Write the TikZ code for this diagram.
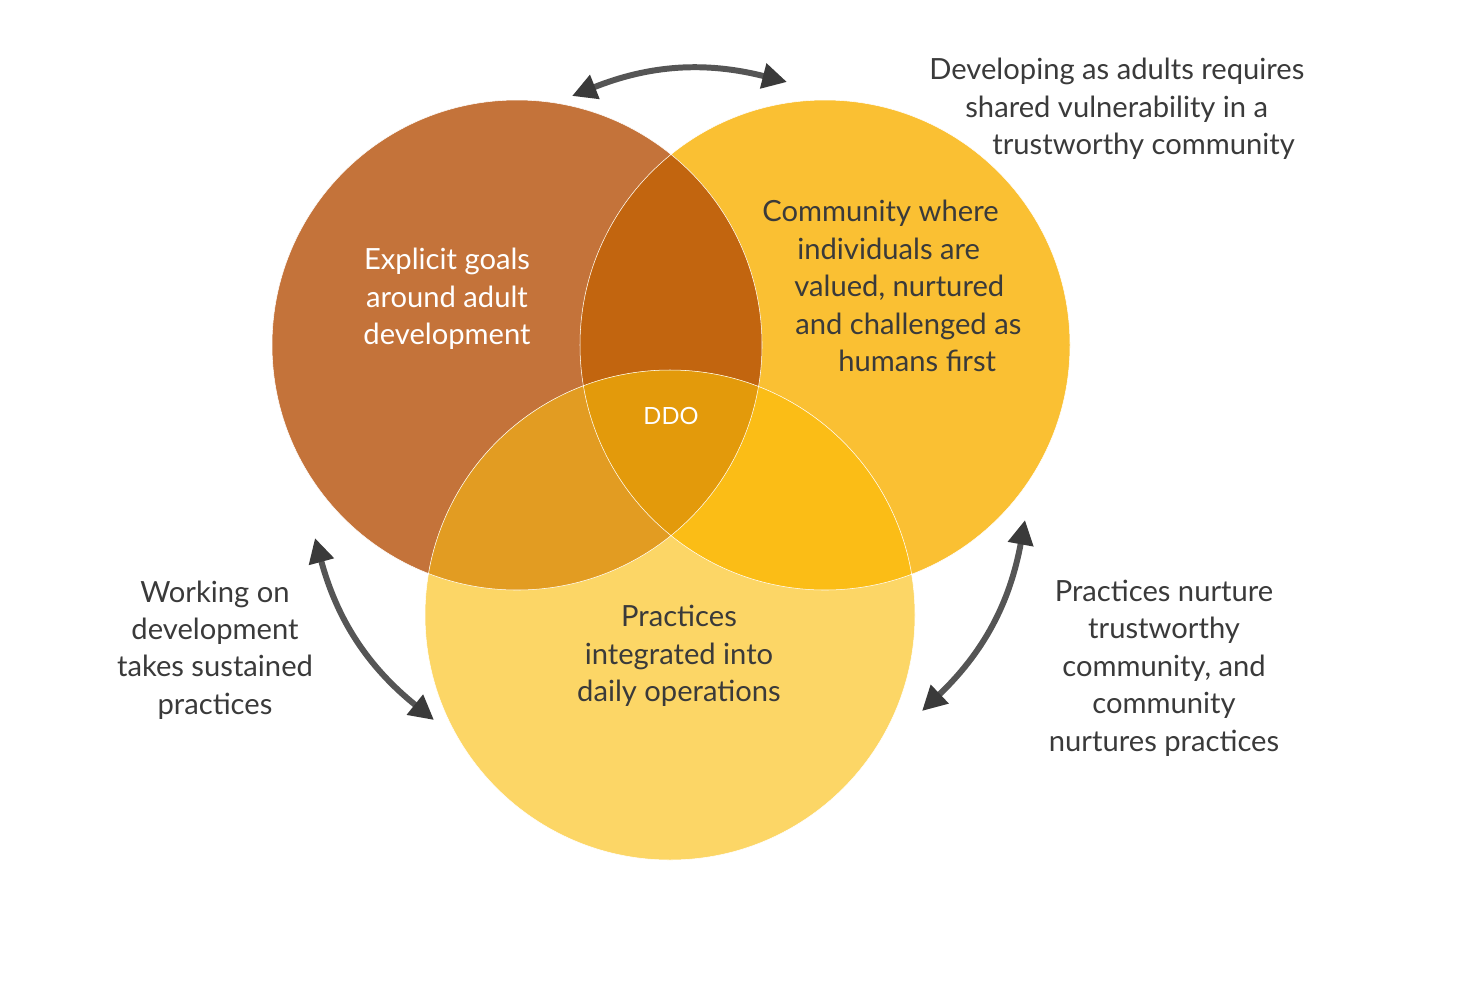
\documentclass[tikz,border=0pt]{standalone}
\usepackage{fontspec}
\setmainfont{Lato}
\usepackage{xcolor}
\usepackage{tikz}
\usetikzlibrary{arrows.meta,positioning}
\definecolor{goalbrown}{HTML}{C4733A}
\definecolor{commyellow}{HTML}{FAC033}
\definecolor{practlight}{HTML}{FCD666}
\definecolor{goalcomm}{HTML}{C2650F}
\definecolor{goalpract}{HTML}{E29C22}
\definecolor{commpract}{HTML}{FBBD16}
\definecolor{ddocore}{HTML}{E39A0B}
\definecolor{textgray}{HTML}{3A3A3A}
\definecolor{arrowgray}{HTML}{555555}
\definecolor{tipgray}{HTML}{3A3A3A}
\newlength{\pxu}
\setlength{\pxu}{0.2mm}

\begin{document}
\begin{tikzpicture}[
    x=0.2mm, y=-0.2mm,
    label/.style={font=\fontsize{16.6}{21.3}\selectfont, text=textgray, align=center, inner sep=0pt},
    inlabel/.style={label, text=white},
    dblarrow/.style={{Triangle[length=14pt,width=14pt,color=tipgray]}-{Triangle[length=14pt,width=14pt,color=tipgray]}, line width=3.4pt, draw=arrowgray}
  ]
    \useasboundingbox (0,0) rectangle (1476,1004);
    \def\goalcirc{(517,345) circle (245)}
    \def\commcirc{(825,345) circle (245)}
    \def\practcirc{(670,615) circle (245)}

    % base circles
    \fill[goalbrown] \goalcirc;
    \fill[commyellow] \commcirc;
    \fill[practlight] \practcirc;
    % pairwise overlaps
    \begin{scope}
      \clip \goalcirc;
      \fill[goalcomm] \commcirc;
      \fill[goalpract] \practcirc;
    \end{scope}
    \begin{scope}
      \clip \commcirc;
      \fill[commpract] \practcirc;
    \end{scope}
    % centre
    \begin{scope}
      \clip \goalcirc;
      \clip \commcirc;
      \fill[ddocore] \practcirc;
    \end{scope}
    \draw[white, line width=0.3pt] \goalcirc \commcirc \practcirc;

    \node[inlabel] (goals) at (447,299) {Explicit goals\\around adult\\development};
    \node[label, align=left, anchor=north west] (community) at (762,200)
      {Community where\\\hspace*{35\pxu}individuals are\\\hspace*{32\pxu}valued, nurtured\\\hspace*{33\pxu}and challenged as\\\hspace*{76\pxu}humans first};
    \node[label] (practices) at (679,656) {Practices\\integrated into\\daily operations};
    \node[inlabel, font=\fontsize{13.5}{16}\selectfont] (ddo) at (671,416) {DDO};

    \node[label, align=left, anchor=north west] (vulnerable) at (929,58)
      {Developing as adults requires\\\hspace*{36\pxu}shared vulnerability in a\\\hspace*{63\pxu}trustworthy community};
    \node[label] (working) at (215,650) {Working on\\development\\takes sustained\\practices};
    \node[label] (nurture) at (1164,668) {Practices nurture\\trustworthy\\community, and\\community\\nurtures practices};

    \coordinate (topL) at (572,96);
    \coordinate (topR) at (787,82);
    \coordinate (leftT) at (315,538);
    \coordinate (leftB) at (434,720);
    \coordinate (rightT) at (1025,520);
    \coordinate (rightB) at (922,711);

    \draw[dblarrow] (topL) to[bend left=18] (topR);
    \draw[dblarrow] (leftT) to[bend right=18] (leftB);
    \draw[dblarrow] (rightT) to[bend left=18] (rightB);
  \end{tikzpicture}
\end{document}
